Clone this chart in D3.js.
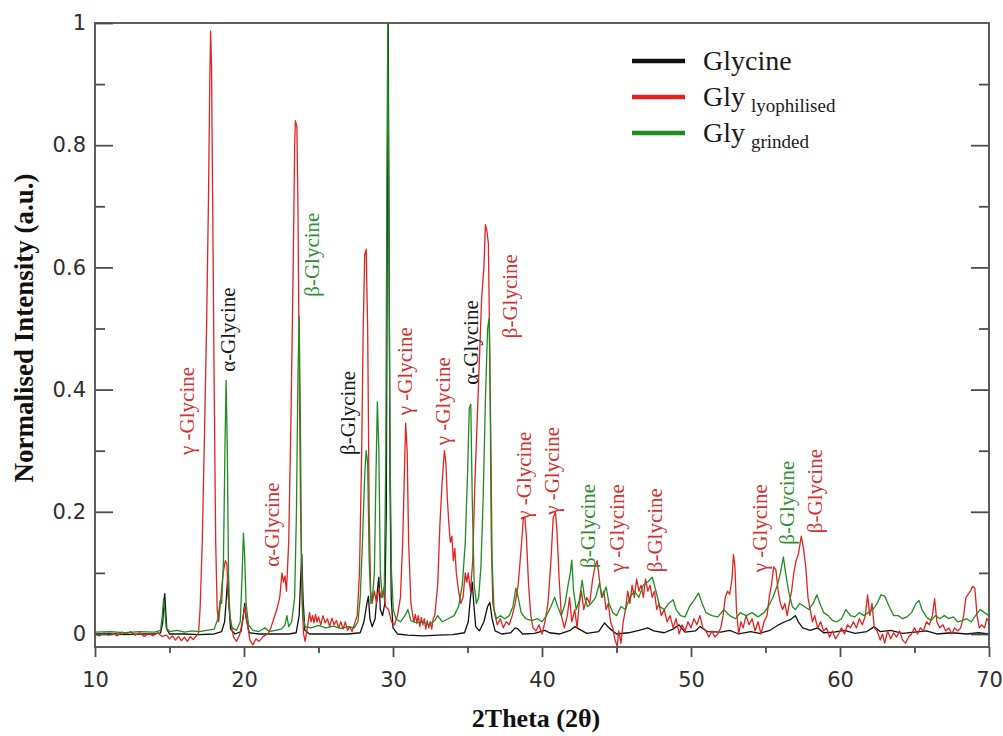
<!DOCTYPE html>
<html>
<head>
<meta charset="utf-8">
<script src="https://cdn.jsdelivr.net/npm/d3@7"></script>
<style>
  body { margin: 0; background: #fff; }
  svg { display: block; }
</style>
</head>
<body>
<svg id="chart" width="1003" height="736"></svg>
<script>
// ---- data: powder XRD patterns, [2θ (deg), normalised intensity] ----
const seriesNames = ["Glycine", "Gly", "Gly"];
const seriesSubscripts = ["", "lyophilised", "grinded"];

const glycineXRD = [
  [10,0.000],[11,0.001],[12,-0.001],[13,0.000],[14,0.000],[14.4,0.002],[14.55,0.02],[14.62,0.05],[14.68,0.066],
  [14.74,0.04],[14.82,0.008],[15,0.0],[16,0.0],[17,-0.001],[18,0.0],[18.5,0.004],[18.7,0.02],[18.82,0.06],
  [18.9,0.09],[18.98,0.05],[19.1,0.008],[19.4,0.0],[19.8,0.004],[19.95,0.03],[20.05,0.05],[20.15,0.025],
  [20.35,0.002],[21,0.0],[22,0.0],[23,0.0],[23.5,0.002],[23.7,0.03],[23.82,0.1],[23.88,0.13],[23.96,0.06],
  [24.08,0.006],[24.4,0.0],[25,0.0],[26,0.0],[27,0.0],[27.8,0.002],[28.05,0.02],[28.25,0.05],[28.35,0.062],
  [28.45,0.025],[28.6,0.012],[28.8,0.025],[28.95,0.07],[29.05,0.093],[29.15,0.04],[29.3,0.03],[29.45,0.05],
  [29.55,0.2],[29.62,0.7],[29.68,0.998],[29.74,0.6],[29.8,0.25],[29.88,0.06],[30.0,0.01],[30.3,0.0],
  [31,-0.002],[32,-0.003],[33,-0.002],[34,-0.001],[34.8,0.002],[35.05,0.02],[35.2,0.06],[35.32,0.085],
  [35.42,0.05],[35.55,0.012],[35.8,0.005],[36.1,0.02],[36.35,0.045],[36.5,0.052],[36.65,0.025],[36.85,0.005],
  [37.3,0.0],[37.9,0.002],[38.2,0.01],[38.4,0.008],[38.7,0.0],[39.5,0.001],[40.2,0.006],[40.5,0.002],
  [41.2,0.0],[41.9,0.006],[42.2,0.012],[42.5,0.008],[43,0.001],[43.8,0.004],[44.2,0.018],[44.5,0.01],
  [45,0.0],[45.8,0.002],[46.5,0.006],[47.1,0.01],[47.5,0.005],[48.2,0.002],[48.8,0.008],[49.2,0.015],
  [49.6,0.003],[50.3,0.005],[50.6,0.012],[51.1,0.004],[52,0.003],[52.6,0.006],[53.2,0.0],[54,0.004],
  [54.6,0.001],[55.3,0.006],[55.8,0.014],[56.3,0.02],[56.7,0.024],[57.0,0.03],[57.2,0.02],[57.5,0.01],
  [58,0.006],[58.5,0.01],[58.9,0.002],[59.6,0.003],[60.3,0.006],[61,0.001],[61.8,0.004],[62.3,0.012],
  [62.7,0.004],[63.4,0.006],[64.2,0.001],[65,0.003],[65.8,0.005],[66.5,0.0],[67.5,0.002],[68.5,0.0],
  [69.3,0.002],[70,0.0]
];

const lyophilisedXRD = [
  [10,0.0],[10.3,-0.003],[10.6,0.002],[10.9,-0.002],[11.2,0.001],[11.5,-0.003],[11.8,0.003],[12.1,0.0],
  [12.4,0.004],[12.7,-0.002],[13.0,0.002],[13.3,-0.004],[13.6,0.001],[13.9,-0.003],[14.2,0.002],[14.5,-0.004],
  [14.8,-0.002],[15.0,-0.008],[15.2,-0.003],[15.4,-0.01],[15.6,-0.004],[15.8,-0.011],[16.0,-0.005],[16.2,-0.012],
  [16.4,-0.004],[16.6,-0.009],[16.8,-0.003],[16.95,0.002],[17.05,0.04],[17.2,0.15],[17.35,0.33],[17.5,0.52],
  [17.62,0.72],[17.7,0.9],[17.76,0.987],[17.82,0.93],[17.9,0.7],[18.0,0.4],[18.1,0.15],[18.2,0.04],
  [18.3,0.02],[18.45,0.06],[18.6,0.1],[18.75,0.12],[18.85,0.115],[18.95,0.06],[19.1,0.02],[19.3,-0.005],
  [19.5,-0.012],[19.7,-0.002],[19.9,0.02],[20.05,0.045],[20.2,0.02],[20.4,-0.01],[20.6,-0.018],[20.8,-0.008],
  [21.0,-0.012],[21.3,-0.004],[21.6,0.0],[21.8,0.01],[22.0,0.025],[22.2,0.04],[22.4,0.06],[22.55,0.1],
  [22.65,0.085],[22.75,0.095],[22.85,0.07],[23.0,0.15],[23.15,0.35],[23.3,0.6],[23.4,0.8],[23.45,0.84],
  [23.55,0.83],[23.62,0.7],[23.7,0.45],[23.8,0.2],[23.9,0.05],[24.0,0.0],[24.1,-0.012],[24.25,0.01],
  [24.4,0.035],[24.5,0.02],[24.6,0.03],[24.7,0.018],[24.8,0.032],[24.9,0.02],[25.0,0.028],[25.15,0.015],
  [25.3,0.03],[25.45,0.018],[25.6,0.025],[25.75,0.012],[25.9,0.026],[26.05,0.015],[26.2,0.022],[26.35,0.01],
  [26.5,0.02],[26.65,0.008],[26.8,0.02],[26.95,0.006],[27.1,0.012],[27.25,0.004],[27.4,0.015],
  [27.6,0.03],[27.75,0.1],[27.9,0.3],[28.0,0.5],
  [28.1,0.62],[28.2,0.63],[28.3,0.5],[28.4,0.2],[28.5,0.07],[28.6,0.05],[28.75,0.07],[28.9,0.05],
  [29.05,0.075],[29.2,0.06],[29.35,0.07],[29.5,0.045],[29.7,0.04],[29.9,0.02],[30.1,0.015],[30.3,0.03],
  [30.5,0.06],[30.65,0.15],[30.75,0.25],[30.85,0.345],[30.95,0.3],[31.05,0.15],[31.2,0.05],[31.4,0.02],
  [31.5,0.032],[31.6,0.018],[31.7,0.03],[31.8,0.012],[31.9,0.027],[32.0,0.015],[32.1,0.025],[32.2,0.008],
  [32.3,0.022],[32.4,0.01],[32.5,0.02],[32.6,0.008],[32.7,0.025],[32.8,0.03],[33.0,0.08],
  [33.15,0.18],[33.3,0.25],[33.45,0.3],[33.55,0.28],[33.65,0.22],[33.75,0.18],[33.85,0.15],[33.95,0.16],
  [34.05,0.12],[34.15,0.14],[34.25,0.1],[34.4,0.07],[34.55,0.05],[34.7,0.06],[34.85,0.1],[34.95,0.085],
  [35.05,0.1],[35.2,0.07],[35.35,0.12],[35.5,0.25],[35.65,0.35],[35.8,0.45],[35.95,0.55],[36.1,0.6],
  [36.2,0.67],[36.3,0.66],[36.4,0.64],[36.5,0.45],[36.6,0.15],[36.7,0.05],[36.85,0.03],[37.0,0.015],
  [37.2,0.025],[37.4,0.01],[37.6,0.02],[37.8,0.015],[38.0,0.03],[38.2,0.05],[38.4,0.08],[38.6,0.14],
  [38.75,0.19],[38.85,0.19],[38.95,0.16],[39.1,0.08],[39.25,0.03],[39.4,0.01],[39.6,0.005],[39.8,0.015],
  [40.0,0.0],[40.2,0.02],[40.4,0.05],[40.6,0.12],[40.75,0.19],[40.9,0.2],[41.0,0.17],[41.15,0.09],
  [41.3,0.03],[41.5,0.01],[41.7,0.03],[41.85,0.06],[42.0,0.02],[42.2,0.04],[42.35,0.01],[42.5,0.05],
  [42.65,0.07],[42.8,0.04],[43.0,0.06],[43.2,0.05],[43.4,0.09],[43.55,0.11],[43.7,0.12],[43.85,0.09],
  [44.0,0.06],[44.15,0.07],[44.3,0.04],[44.45,0.05],[44.6,0.02],[44.75,0.01],[44.9,-0.01],[45.05,-0.02],
  [45.15,0.005],[45.3,-0.015],[45.45,0.02],[45.6,0.04],[45.75,0.07],[45.9,0.05],[46.05,0.08],[46.2,0.06],
  [46.35,0.09],[46.5,0.07],[46.65,0.08],[46.8,0.06],[46.95,0.09],[47.1,0.07],[47.25,0.08],[47.4,0.06],
  [47.55,0.07],[47.7,0.04],[47.85,0.05],[48.0,0.03],[48.2,0.04],[48.4,0.02],[48.6,0.03],[48.8,0.01],
  [49.0,0.025],[49.2,0.0],[49.4,0.015],[49.6,0.005],[49.8,0.02],[50.0,0.01],[50.2,0.025],[50.4,0.015],
  [50.6,0.03],[50.8,0.01],[51.0,0.005],[51.2,-0.005],[51.4,0.005],[51.6,-0.005],[51.8,0.0],[52.0,0.01],
  [52.15,0.03],[52.3,0.06],[52.45,0.07],[52.6,0.065],[52.75,0.09],[52.85,0.13],[52.95,0.11],[53.05,0.04],
  [53.2,0.0],[53.35,0.02],[53.5,0.01],[53.7,0.03],[53.9,0.015],[54.1,0.025],[54.3,0.005],[54.5,0.02],
  [54.7,0.0],[54.9,0.02],[55.1,0.03],[55.25,0.06],[55.4,0.08],[55.55,0.11],[55.7,0.105],[55.85,0.07],
  [56.0,0.05],[56.15,0.04],[56.3,0.05],[56.45,0.03],[56.6,0.05],[56.75,0.07],[56.9,0.1],[57.05,0.12],
  [57.2,0.13],[57.4,0.16],[57.55,0.14],[57.7,0.11],[57.85,0.06],[58.0,0.04],[58.15,0.02],[58.3,0.03],
  [58.5,0.01],[58.7,0.02],[58.9,0.005],[59.1,0.01],[59.3,-0.005],[59.5,0.005],[59.7,-0.008],[59.9,0.0],
  [60.1,0.01],[60.3,0.0],[60.5,0.015],[60.7,0.01],[60.9,0.02],[61.1,0.01],[61.3,0.025],[61.5,0.015],
  [61.7,0.03],[61.85,0.064],[62.0,0.03],[62.15,0.05],[62.3,0.01],[62.5,0.005],[62.7,-0.01],[62.85,0.0],
  [63.0,-0.015],[63.2,0.005],[63.4,-0.008],[63.6,0.002],[63.8,-0.005],[64.0,0.005],[64.2,-0.01],[64.4,-0.015],
  [64.6,-0.005],[64.8,0.0],[65.0,0.01],[65.2,0.0],[65.4,0.01],[65.6,0.005],[65.8,0.02],[66.0,0.015],
  [66.2,0.03],[66.35,0.058],[66.5,0.02],[66.7,0.01],[66.9,0.015],[67.1,0.005],[67.3,0.01],[67.5,0.0],
  [67.7,0.01],[67.9,0.005],[68.1,0.01],[68.3,0.03],[68.45,0.06],[68.6,0.065],[68.75,0.07],[68.9,0.078],
  [69.05,0.075],[69.2,0.03],[69.35,0.01],[69.5,0.015],[69.7,0.01],[69.85,0.025],[70.0,0.02]
];

const grindedXRD = [
  [10,0.003],[11,0.004],[12,0.002],[13,0.004],[14,0.003],[14.4,0.006],[14.52,0.03],[14.6,0.058],[14.68,0.04],
  [14.78,0.01],[15,0.004],[15.5,0.006],[16,0.003],[16.5,0.005],[17,0.004],[17.5,0.006],[18,0.008],[18.25,0.025],
  [18.4,0.055],[18.5,0.05],[18.62,0.12],[18.72,0.3],[18.8,0.415],[18.88,0.3],[18.96,0.1],[19.05,0.03],
  [19.2,0.01],[19.5,0.006],[19.75,0.02],[19.88,0.1],[19.96,0.165],[20.04,0.13],[20.14,0.05],[20.3,0.015],
  [20.6,0.006],[21,0.004],[21.4,0.01],[21.7,0.004],[22.1,0.006],[22.5,0.008],[22.75,0.015],[22.88,0.03],
  [23.0,0.012],[23.2,0.02],[23.4,0.06],[23.52,0.2],[23.62,0.42],[23.7,0.52],[23.78,0.36],[23.86,0.12],
  [23.96,0.03],[24.1,0.012],[24.5,0.01],[25,0.014],[25.5,0.01],[26,0.013],[26.5,0.009],[27,0.012],
  [27.4,0.01],[27.65,0.02],[27.8,0.06],[27.95,0.15],[28.1,0.26],[28.2,0.3],[28.3,0.28],[28.4,0.12],
  [28.52,0.05],[28.62,0.06],[28.75,0.1],[28.85,0.25],[28.95,0.38],[29.05,0.3],[29.15,0.1],[29.28,0.06],
  [29.42,0.08],[29.52,0.3],[29.6,0.8],[29.65,1.0],[29.72,0.7],[29.8,0.3],[29.9,0.1],[30.02,0.04],
  [30.2,0.025],[30.5,0.02],[30.8,0.03],[31.0,0.04],[31.2,0.022],[31.6,0.018],[32,0.02],[32.4,0.015],
  [32.8,0.022],[33.0,0.03],[33.3,0.02],[33.7,0.025],[34.1,0.03],[34.4,0.045],[34.65,0.08],[34.85,0.15],
  [35.0,0.26],[35.12,0.37],[35.22,0.376],[35.32,0.22],[35.45,0.08],[35.6,0.05],[35.75,0.06],[35.9,0.11],
  [36.05,0.22],[36.2,0.38],[36.35,0.5],[36.45,0.517],[36.55,0.35],[36.65,0.12],[36.78,0.04],[36.95,0.025],
  [37.2,0.03],[37.5,0.025],[37.8,0.03],[38.05,0.045],[38.25,0.075],[38.4,0.06],[38.6,0.035],[38.9,0.025],
  [39.3,0.022],[39.7,0.025],[40.0,0.02],[40.3,0.03],[40.6,0.045],[40.85,0.06],[41.05,0.045],[41.3,0.03],
  [41.55,0.05],[41.75,0.08],[41.9,0.1],[42.0,0.121],[42.12,0.07],[42.3,0.04],[42.5,0.055],[42.7,0.088],
  [42.85,0.06],[43.05,0.045],[43.3,0.05],[43.6,0.06],[43.85,0.083],[44.05,0.06],[44.3,0.077],[44.5,0.05],
  [44.75,0.035],[45.0,0.03],[45.3,0.045],[45.6,0.04],[45.9,0.06],[46.2,0.07],[46.5,0.06],[46.8,0.08],
  [47.1,0.085],[47.4,0.093],[47.65,0.07],[47.9,0.045],[48.2,0.04],[48.5,0.05],[48.8,0.056],[49.0,0.04],
  [49.3,0.03],[49.6,0.028],[49.9,0.045],[50.2,0.055],[50.5,0.067],[50.75,0.05],[51.0,0.035],[51.4,0.03],
  [51.8,0.028],[52.2,0.04],[52.6,0.03],[53.0,0.025],[53.3,0.035],[53.7,0.03],[54.1,0.035],[54.5,0.028],
  [54.9,0.035],[55.2,0.045],[55.5,0.06],[55.8,0.08],[56.0,0.1],[56.2,0.126],[56.35,0.1],[56.55,0.07],
  [56.8,0.045],[57.0,0.04],[57.3,0.05],[57.6,0.045],[57.9,0.04],[58.2,0.05],[58.45,0.064],[58.65,0.05],
  [58.9,0.035],[59.2,0.03],[59.5,0.022],[59.8,0.02],[60.1,0.025],[60.4,0.04],[60.7,0.03],[61.0,0.028],
  [61.3,0.035],[61.6,0.03],[61.9,0.035],[62.2,0.04],[62.5,0.05],[62.75,0.064],[63.0,0.062],[63.3,0.045],
  [63.6,0.03],[63.9,0.03],[64.2,0.025],[64.5,0.028],[64.8,0.035],[65.1,0.05],[65.3,0.055],[65.5,0.04],
  [65.8,0.028],[66.1,0.022],[66.4,0.03],[66.7,0.025],[67.0,0.03],[67.3,0.025],[67.6,0.028],[67.9,0.02],
  [68.2,0.022],[68.5,0.025],[68.8,0.02],[69.1,0.03],[69.4,0.04],[69.7,0.035],[70,0.03]
];

// axis ticks
const xMajorTicks = [10, 20, 30, 40, 50, 60, 70];
const xMinorTicks = [15, 25, 35, 45, 55, 65];
const yMajorTicks = [0, 0.2, 0.4, 0.6, 0.8, 1];
const yMinorTicks = [0.1, 0.3, 0.5, 0.7, 0.9];

// phase assignments written beside the peaks (series index: 0 Glycine, 1 lyophilised, 2 grinded)
const peakLabelText = ["γ -Glycine","α-Glycine","α-Glycine","β-Glycine","β-Glycine","γ -Glycine","γ -Glycine",
  "α-Glycine","β-Glycine","γ -Glycine","γ -Glycine","β-Glycine","γ -Glycine","β-Glycine","γ -Glycine",
  "β-Glycine","β-Glycine"];
const peakLabelTheta = [16.17,18.93,21.88,24.56,26.98,30.81,33.36,35.23,37.85,38.79,40.67,43.09,45.03,47.58,54.63,56.44,58.32];
const peakLabelLevel = [0.293,0.429,0.110,0.552,0.293,0.358,0.309,0.408,0.484,0.187,0.195,0.108,0.101,0.101,0.101,0.146,0.165];
const peakLabelSeries = [1,0,1,2,0,1,1,0,1,1,1,2,1,1,1,2,1];

// ---- drawing ----
const svg = d3.select("#chart");
const plotL = 95, plotR = 989, plotT = 23, plotB = 647;

const x = d3.scaleLinear().domain([10, 70]).range([plotL, plotR]);
const y = d3.scaleLinear().domain([-0.0213, 1]).range([plotB, plotT]);

const lineColors = ["#111111", "#e4221f", "#1f8c1f"];
const labelColors = ["#1a1a1a", "#d63030", "#2f8f2f"];
const frameColor = "#4d4d4d";
const tickFont = "'DejaVu Sans', Verdana, sans-serif";
const serif = "'Liberation Serif', 'Times New Roman', serif";

svg.append("defs").append("clipPath").attr("id", "plot-clip")
  .append("rect").attr("x", plotL).attr("y", plotT - 1).attr("width", plotR - plotL).attr("height", plotB - plotT + 1);

// traces
const line = d3.line().x(d => x(d[0])).y(d => y(d[1]));
const traces = svg.append("g").attr("clip-path", "url(#plot-clip)");
[glycineXRD, lyophilisedXRD, grindedXRD].forEach((data, i) => {
  traces.append("path")
    .datum(data)
    .attr("d", line)
    .attr("fill", "none")
    .attr("stroke", lineColors[i])
    .attr("stroke-width", 1.3)
    .attr("stroke-linejoin", "round");
});

// frame
svg.append("rect")
  .attr("x", plotL).attr("y", plotT)
  .attr("width", plotR - plotL).attr("height", plotB - plotT)
  .attr("fill", "none").attr("stroke", frameColor).attr("stroke-width", 1.8);

function styleAxis(g) {
  g.select(".domain").remove();
  g.selectAll(".tick line").attr("stroke", frameColor).attr("stroke-width", 1.8);
  g.selectAll(".tick text")
    .attr("fill", "#2e2e2e")
    .style("font-family", tickFont)
    .style("font-size", "21px");
}

// left axis: inward ticks with labels
svg.append("g").attr("transform", `translate(${plotL},0)`)
  .call(d3.axisLeft(y).tickValues(yMajorTicks).tickSizeInner(-18).tickSizeOuter(0).tickPadding(9)
    .tickFormat(d => d === 0 || d === 1 ? d3.format("d")(d) : d3.format(".1f")(d)))
  .call(styleAxis);
svg.append("g").attr("transform", `translate(${plotL},0)`)
  .call(d3.axisLeft(y).tickValues(yMinorTicks).tickSizeInner(-10).tickSizeOuter(0).tickFormat(""))
  .call(styleAxis);

// right axis: inward ticks only
svg.append("g").attr("transform", `translate(${plotR},0)`)
  .call(d3.axisRight(y).tickValues(yMajorTicks.filter(d => d < 1)).tickSizeInner(-18).tickSizeOuter(0).tickFormat(""))
  .call(styleAxis);
svg.append("g").attr("transform", `translate(${plotR},0)`)
  .call(d3.axisRight(y).tickValues(yMinorTicks).tickSizeInner(-10).tickSizeOuter(0).tickFormat(""))
  .call(styleAxis);

// bottom axis: outward ticks with labels
svg.append("g").attr("transform", `translate(0,${plotB})`)
  .call(d3.axisBottom(x).tickValues(xMajorTicks).tickSizeInner(10).tickSizeOuter(0).tickPadding(15).tickFormat(d3.format("d")))
  .call(styleAxis);
svg.append("g").attr("transform", `translate(0,${plotB})`)
  .call(d3.axisBottom(x).tickValues(xMinorTicks).tickSizeInner(6).tickSizeOuter(0).tickFormat(""))
  .call(styleAxis);

// axis titles
svg.append("text")
  .attr("x", (plotL + plotR) / 2 - 6).attr("y", 727)
  .attr("text-anchor", "middle")
  .style("font-family", serif).style("font-weight", "bold").style("font-size", "26px")
  .attr("fill", "#111")
  .text("2Theta (2θ)");

svg.append("text")
  .attr("transform", `translate(33,328) rotate(-90)`)
  .attr("text-anchor", "middle")
  .style("font-family", serif).style("font-weight", "bold").style("font-size", "27px")
  .attr("fill", "#111")
  .text("Normalised Intensity (a.u.)");

// peak phase labels, reading upward from the peak
svg.append("g").selectAll("text")
  .data(peakLabelText.map((t, i) => ({ t, theta: peakLabelTheta[i], level: peakLabelLevel[i], s: peakLabelSeries[i] })))
  .join("text")
  .attr("transform", d => `translate(${x(d.theta)},${y(d.level)}) rotate(-90)`)
  .attr("dy", "0.35em")
  .attr("text-anchor", "start")
  .style("font-family", serif).style("font-size", "21px")
  .attr("fill", d => labelColors[d.s])
  .text(d => d.t);

// legend
const legend = svg.append("g");
const legendRows = [61, 97, 133];
seriesNames.forEach((name, i) => {
  const ly = legendRows[i];
  legend.append("line")
    .attr("x1", 632).attr("x2", 685).attr("y1", ly).attr("y2", ly)
    .attr("stroke", lineColors[i]).attr("stroke-width", 4.5);
  const t = legend.append("text")
    .attr("x", 703).attr("y", ly + 9)
    .style("font-family", serif).style("font-size", "28px")
    .attr("fill", "#1a1a1a");
  t.append("tspan").text(name);
  if (seriesSubscripts[i]) {
    t.append("tspan").attr("dx", 6).attr("dy", 6).style("font-size", "19px").text(seriesSubscripts[i]);
  }
});
</script>
</body>
</html>
